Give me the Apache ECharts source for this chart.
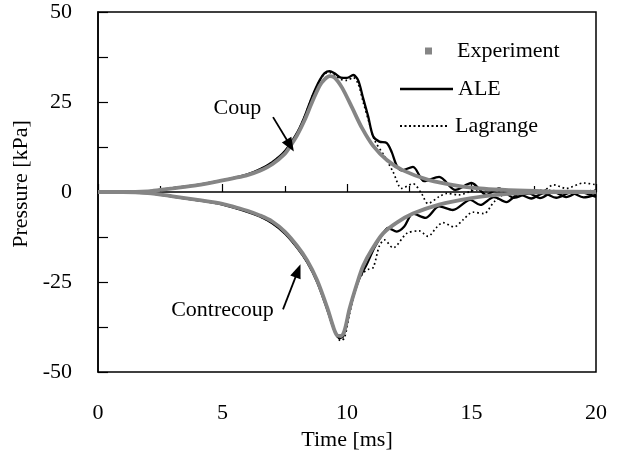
<!DOCTYPE html>
<html>
<head>
<meta charset="utf-8">
<script src="https://cdn.jsdelivr.net/npm/echarts@6/dist/echarts.min.js"></script>
<style>html,body{margin:0;padding:0;background:#fff}#c{width:618px;height:459px}</style>
</head>
<body>
<div id="c"></div>
<script>
// ---- data (time in ms, pressure in kPa) ----
var xTicks = [0, 5, 10, 15, 20];
var yTicks = [-50, -25, 0, 25, 50];

var expCoupT = [0, 1, 2, 2.5, 3, 4, 5, 5.5, 6, 6.5, 7, 7.5, 7.7, 8, 8.3, 8.6, 8.9, 9.1, 9.3, 9.5, 9.8, 10.2, 10.6, 11.05, 11.6, 12.25, 13.3, 14.4, 15.5, 16.5, 18, 20];
var expCoupV = [0, 0, 0.2, 0.6, 1.0, 1.9, 3.2, 3.9, 4.7, 5.9, 7.7, 10.6, 12.5, 15.8, 20, 25, 29.5, 31.3, 32.2, 31.8, 29, 23.5, 17.8, 12.8, 8.9, 6.0, 3.3, 1.8, 0.9, 0.5, 0.2, 0];

var expContT = [0, 1, 2, 3, 4, 5, 5.5, 6, 6.5, 7, 7.5, 8, 8.4, 8.8, 9.2, 9.45, 9.6, 9.75, 9.9, 10.1, 10.4, 10.65, 11.0, 11.45, 12.0, 12.65, 13.7, 15, 16, 17, 18.5, 20];
var expContV = [0, 0, -0.3, -1.2, -2.2, -3.3, -4.2, -5.2, -6.5, -8.2, -11, -15, -19, -24.5, -32, -37.5, -39.8, -40, -38.5, -32.5, -25.5, -20.5, -16, -11.5, -8.5, -6, -3.5, -1.7, -0.8, -0.3, 0, 0];

var aleCoupT = [0, 2, 3, 4, 5, 6, 6.5, 7, 7.5, 8, 8.3, 8.6, 8.9, 9.1, 9.3, 9.5, 9.75, 10.0, 10.25, 10.45, 10.65, 10.85, 11.05, 11.3, 11.6, 11.8, 12.0, 12.2, 12.65, 13.1, 13.7, 14.35, 15.0, 15.6, 16.1, 16.7, 17.3, 17.75, 18.3, 18.8, 19.35, 20];
var aleCoupV = [0, 0.2, 1.1, 2.0, 3.2, 4.9, 6.3, 8.3, 11.3, 16.5, 21, 26.5, 31, 33, 33.6, 33, 31.8, 31.7, 32.5, 31, 26, 21, 15.5, 14, 13.6, 11, 7.3, 6, 7, 3, 4.2, 0.6, 2.5, -0.8, 1, -1.6, -0.4, -1.7, 0, -1.4, 0, -1.4];

var aleContT = [0, 2, 3, 4, 5, 6, 6.5, 7, 7.5, 8, 8.4, 8.8, 9.2, 9.5, 9.7, 9.85, 10.05, 10.25, 10.5, 10.8, 11.1, 11.45, 11.65, 12.0, 12.3, 12.65, 13.15, 13.7, 14.25, 14.95, 15.35, 15.9, 16.4, 16.9, 17.4, 17.9, 18.4, 19.0, 19.5, 20];
var aleContV = [0, -0.3, -1.3, -2.3, -3.5, -5.5, -6.8, -8.7, -11.5, -15.5, -19.5, -25, -32.5, -38.5, -40.6, -40, -34, -29, -24, -20, -15.5, -11.5, -10, -11, -9.6, -6, -7.2, -4, -5, -2.2, -3.6, -1.4, -2.8, -0.6, -1.8, -0.3, -1.6, -0.2, -1.5, -0.8];

var lagCoupT = [0, 2, 3, 4, 5, 6, 6.5, 7, 7.5, 8, 8.3, 8.6, 8.9, 9.1, 9.3, 9.5, 9.75, 10.0, 10.25, 10.45, 10.65, 10.9, 11.1, 11.5, 11.85, 12.2, 12.65, 13.0, 13.25, 13.7, 14.0, 14.5, 15.2, 16.0, 16.8, 17.3, 17.75, 18.3, 18.8, 19.5, 20];
var lagCoupV = [0, 0.2, 1.1, 2.0, 3.2, 4.9, 6.3, 8.3, 11.3, 16.5, 21, 26.5, 31, 32.8, 33.2, 32.5, 31.3, 31.0, 31.8, 30, 25, 19, 14.5, 10, 5.6, 1, 2.3, -0.5, -3.2, -1.3, -0.4, -0.8, 0.6, 0.3, -0.5, 0.3, -0.2, 2, 1, 2.5, 2];

var lagContT = [0, 2, 3, 4, 5, 6, 6.5, 7, 7.5, 8, 8.4, 8.8, 9.2, 9.5, 9.75, 9.9, 10.1, 10.4, 10.65, 10.85, 11.05, 11.3, 11.5, 11.85, 12.4, 12.9, 13.25, 13.6, 13.85, 14.3, 14.65, 15.05, 15.5, 15.9, 16.4, 17.0, 17.5, 18.0, 19, 20];
var lagContV = [0, -0.3, -1.3, -2.3, -3.5, -5.5, -6.8, -8.7, -11.5, -15.5, -19.5, -25, -32.5, -38.8, -41.3, -40.5, -34, -25.5, -22.5, -21.5, -21, -15, -13.3, -15.5, -11.5, -10.8, -12.3, -9.8, -8.5, -9.7, -7.8, -5.6, -6, -2.8, -0.5, -1, 0.2, 0.5, 0, 0.5];

// annotations (data coordinates)
var coupLabel = {name: 'Coup', at: [5.6, 23.3]};
var contLabel = {name: 'Contrecoup', at: [5.0, -32.8]};
var coupArrow = [[7.03, 20.8], [7.72, 12.9]];
var contArrow = [[7.43, -32.6], [8.03, -21.9]];

function zip(t, v) { return t.map(function (x, i) { return [x, v[i]]; }); }

var FONT = 'Liberation Serif, Times New Roman, serif';
var GRAY = '#858585';

// dotted legend icon (styling only)
var dotPath = 'path://';
for (var k = 0; k <= 48; k += 4.5) { dotPath += 'M' + k + ',0h2v2h-2z'; }

var chart = echarts.init(document.getElementById('c'), null, {renderer: 'canvas'});

var arrowStyle = {color: '#000', width: 1.8, type: 'solid'};
var txt = {color: '#000', fontFamily: FONT, fontSize: 22};
var legText = function (pad) { return {color: '#000', fontFamily: FONT, fontSize: 22, padding: [0, 0, 0, pad]}; };

chart.setOption({
  animation: false,
  backgroundColor: '#fff',
  grid: {left: 98, right: 22, top: 12, bottom: 87, show: true, borderColor: '#000', borderWidth: 1.5, backgroundColor: 'transparent'},
  legend: [
    {data: [{name: 'Experiment', icon: 'rect'}], left: 420, top: 35, itemWidth: 7, itemHeight: 7,
     textStyle: legText(20), selectedMode: false},
    {data: [{name: 'ALE', icon: 'rect'}], left: 395, top: 73, itemWidth: 53, itemHeight: 2.4,
     textStyle: legText(0), selectedMode: false},
    {data: [{name: 'Lagrange', icon: dotPath}], left: 395, top: 110, itemWidth: 53, itemHeight: 2,
     textStyle: legText(0), selectedMode: false}
  ],
  xAxis: {
    type: 'value', min: xTicks[0], max: xTicks[xTicks.length - 1], interval: 5,
    name: 'Time [ms]', nameLocation: 'middle', nameGap: 54, nameTextStyle: txt,
    axisLine: {lineStyle: {color: '#000', width: 1.5}},
    axisTick: {inside: true, length: 8, lineStyle: {color: '#000', width: 1.2}},
    minorTick: {show: true, splitNumber: 2, length: 6, lineStyle: {color: '#000', width: 1.2}},
    splitLine: {show: false},
    axisLabel: {margin: 30, color: '#000', fontFamily: FONT, fontSize: 22}
  },
  yAxis: {
    type: 'value', min: yTicks[0], max: yTicks[yTicks.length - 1], interval: 25,
    name: 'Pressure [kPa]', nameLocation: 'middle', nameGap: 61,
    nameTextStyle: {color: '#000', fontFamily: FONT, fontSize: 22, padding: [0, 0, 0, 16]},
    axisLine: {lineStyle: {color: '#000', width: 1.5}},
    axisTick: {inside: true, length: 10, lineStyle: {color: '#000', width: 1.2}},
    minorTick: {show: true, splitNumber: 2, length: 10, lineStyle: {color: '#000', width: 1.2}},
    splitLine: {show: false},
    axisLabel: {margin: 26, color: '#000', fontFamily: FONT, fontSize: 22}
  },
  series: [
    {name: 'Lagrange', type: 'line', data: zip(lagCoupT, lagCoupV), showSymbol: false, symbol: 'none', smooth: 0.3,
     lineStyle: {color: '#000', width: 1.7, type: [1.7, 2.8]}, itemStyle: {color: '#000'}},
    {name: 'Lagrange', type: 'line', data: zip(lagContT, lagContV), showSymbol: false, symbol: 'none', smooth: 0.3,
     lineStyle: {color: '#000', width: 1.7, type: [1.7, 2.8]}, itemStyle: {color: '#000'}},
    {name: 'ALE', type: 'line', data: zip(aleCoupT, aleCoupV), showSymbol: false, symbol: 'none', smooth: 0.3,
     lineStyle: {color: '#000', width: 2.3}, itemStyle: {color: '#000'},
     markLine: {silent: true, symbol: ['none', 'triangle'], symbolSize: [11, 14], lineStyle: arrowStyle, label: {show: false},
       data: [[{coord: coupArrow[0]}, {coord: coupArrow[1]}], [{coord: contArrow[0]}, {coord: contArrow[1]}]]},
     markPoint: {silent: true, symbol: 'rect', symbolSize: 1, itemStyle: {color: 'rgba(0,0,0,0)'},
       label: {show: true, position: 'inside', color: '#000', fontFamily: FONT, fontSize: 22, formatter: '{b}'},
       data: [{name: coupLabel.name, coord: coupLabel.at}, {name: contLabel.name, coord: contLabel.at}]}},
    {name: 'ALE', type: 'line', data: zip(aleContT, aleContV), showSymbol: false, symbol: 'none', smooth: 0.3,
     lineStyle: {color: '#000', width: 2.3}, itemStyle: {color: '#000'}},
    {name: 'Experiment', type: 'line', data: zip(expCoupT, expCoupV), showSymbol: false, symbol: 'none', smooth: 0.3,
     lineStyle: {color: GRAY, width: 3.8}, itemStyle: {color: GRAY}},
    {name: 'Experiment', type: 'line', data: zip(expContT, expContV), showSymbol: false, symbol: 'none', smooth: 0.3,
     lineStyle: {color: GRAY, width: 3.8}, itemStyle: {color: GRAY}}
  ]
});
</script>
</body>
</html>
